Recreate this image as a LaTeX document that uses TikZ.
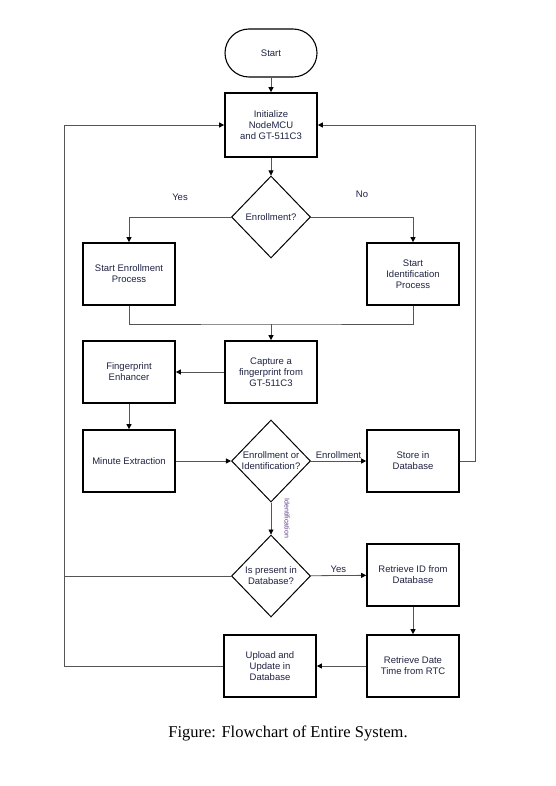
\documentclass[tikz,border=0pt]{standalone}
\usepackage{fontspec}
\setmainfont{Liberation Serif}
\setsansfont{Liberation Sans}
\usetikzlibrary{shapes.geometric,arrows.meta,positioning}
\definecolor{inkblue}{RGB}{30,34,65}
\definecolor{flowgray}{RGB}{85,85,85}
\definecolor{labpurple}{RGB}{90,60,130}
\tikzstyle{terminal}=[draw,rectangle,rounded corners=24pt,line width=1.1pt,minimum width=92pt,minimum height=48pt]
\tikzstyle{process}=[draw,rectangle,line width=1.7pt,minimum width=92pt,minimum height=62pt,align=center]
\tikzstyle{decision}=[draw,diamond,aspect=1,line width=1pt,minimum width=79pt,minimum height=82pt,inner sep=0pt,align=center]
\tikzstyle{arrow}=[->,>={Triangle[length=5pt,width=5pt,color=black]},draw=flowgray,line width=0.8pt]
\tikzstyle{line}=[draw=flowgray,line width=0.8pt]

\begin{document}
\begin{tikzpicture}[x=1pt,y=-1pt,font=\sffamily\fontsize{9.5}{11}\selectfont,text=inkblue]
    \useasboundingbox (0,0) rectangle (555,786);

    % main column
    \node[terminal] (start)   at (271,53)  {Start};
    \node[process,minimum height=64pt] (init) at (271,125) {Initialize\\NodeMCU\\and GT-511C3};
    \node[decision] (enrollq) at (271,217) {Enrollment?};
    \node[process]  (enroll)  at (129,274) {Start Enrollment\\Process};
    \node[process]  (ident)   at (413,274) {Start\\Identification\\Process};
    \node[process]  (capture) at (271,372) {Capture a\\fingerprint from\\GT-511C3};
    \node[process]  (enhance) at (129,372) {Fingerprint\\Enhancer};
    \node[process]  (minute)  at (129,461) {Minute Extraction};
    \node[decision] (modeq)   at (271,461) {Enrollment or\\Identification?};
    \node[process]  (store)   at (413,461) {Store in\\Database};
    \node[decision] (foundq)  at (271,576) {Is present in\\Database?};
    \node[process]  (getid)   at (413,575) {Retrieve ID from\\Database};
    \node[process]  (gettime) at (413,666) {Retrieve Date\\Time from RTC};
    \node[process]  (upload)  at (270,666) {Upload and\\Update in\\Database};

    \node[text=black,font=\rmfamily\fontsize{16.5}{20}\selectfont] (caption) at (288,733) {Figure: Flowchart of Entire System.};

    % corners of the loops
    \coordinate (merge) at (271,324);
    \coordinate (rloop) at (475,461);
    \coordinate (lloop) at (64,666);

    \draw[arrow] (start) -- (init);
    \draw[arrow] (init) -- (enrollq);
    \draw[arrow] (enrollq.west) -| node[pos=0.25,above=13pt] {Yes} (enroll.north);
    \draw[arrow] (enrollq.east) -| node[pos=0.25,above=16pt] {No} (ident.north);
    \draw[line] (enroll.south) |- (merge) -| (ident.south);
    \draw[arrow] (merge) -- (capture.north);
    \draw[arrow] (capture) -- (enhance);
    \draw[arrow] (enhance) -- (minute);
    \draw[arrow] (minute) -- (modeq);
    \draw[arrow] (modeq) -- node[above=-1pt] {Enrollment} (store);
    \draw[arrow] (store.east) -- (rloop) |- (init.east);
    \draw[arrow] (modeq) -- node[xshift=16pt,rotate=-90,text=labpurple,font=\sffamily\fontsize{7}{8}\selectfont] {Identification} (foundq);
    \draw[arrow] (foundq) -- node[above=-1pt] {Yes} (getid);
    \draw[arrow] (getid) -- (gettime);
    \draw[arrow] (gettime) -- (upload);
    \draw[arrow] (upload.west) -- (lloop) |- (init.west);
    \draw[line] (foundq.west) -- (foundq.west -| lloop);

\end{tikzpicture}
\end{document}
